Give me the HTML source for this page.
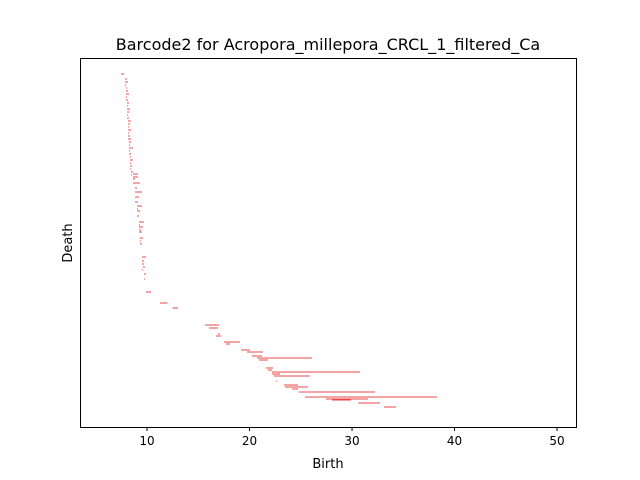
<!DOCTYPE html>
<html><head><meta charset="utf-8"><style>
body{margin:0;background:#fff}
svg{display:block;font-family:"DejaVu Sans","Liberation Sans",sans-serif}
</style></head><body>
<svg width="640" height="480" id="chart">
<rect x="0" y="0" width="640" height="480" fill="#fff"/>
<text x="328" y="50" text-anchor="middle" font-size="16">Barcode2 for Acropora_millepora_CRCL_1_filtered_Ca</text>
<g id="bars"></g>
<g id="xticks"></g>
<rect x="80.5" y="58.5" width="496" height="369" fill="none" stroke="#000" stroke-width="1"/>
<text x="328" y="468" text-anchor="middle" font-size="13">Birth</text>
<text x="72" y="243" text-anchor="middle" font-size="13" transform="rotate(-90 72 243)">Death</text>
</svg>
<script>
const births=[7.46,7.85,7.85,7.85,7.95,7.95,7.95,7.95,7.95,8.05,8.05,8.05,8.05,8.05,8.05,8.15,8.15,8.15,8.15,8.15,8.15,8.15,8.24,8.24,8.24,8.24,8.24,8.34,8.34,8.34,8.34,8.34,8.44,8.44,8.63,8.63,8.63,8.63,8.83,8.83,8.83,8.83,9.02,9.02,9.02,9.02,9.22,9.22,9.22,9.22,9.22,9.32,9.32,9.32,9.51,9.51,9.51,9.51,9.61,9.71,9.71,9.90,11.27,12.5,15.66,16.05,16.73,16.9,17.51,17.71,19.17,19.76,20.24,20.73,20.93,21.61,21.80,22.20,22.20,22.39,22.59,23.37,23.46,24.15,24.83,25.41,27.46,28.05,30.6,33.12];
const deaths=[7.76,8.05,8.15,7.95,8.05,8.15,8.24,8.05,8.15,8.24,8.15,8.34,8.24,8.15,8.24,8.44,8.34,8.24,8.44,8.24,8.34,8.44,8.44,8.34,8.63,8.34,8.44,8.44,8.63,8.44,8.53,8.44,8.63,8.53,9.12,9.12,9.32,8.83,9.51,9.22,9.12,9.02,9.51,9.32,9.22,9.12,9.71,9.61,9.51,9.32,9.42,9.61,9.51,9.42,9.90,9.71,9.61,9.71,9.80,9.90,9.80,10.39,12.0,13.02,17.02,16.93,17.22,17.1,19.07,18.10,20.05,21.32,21.22,26.10,21.80,22.29,22.20,30.78,22.98,25.90,22.68,24.73,25.71,24.73,32.24,38.29,31.56,29.90,32.73,34.29];
const ranks=[16,21,24,27,30,33,36,39,42,45,48,51,54,57,60,63,66,69,72,75,78,81,84,87,90,93,96,99,102,105,108,111,114,117,116,119,125,121,134,139,144,130,148,153,158,151,164,169,174,167,172,180,186,183,199,206,212,203,209,216,221,234,245,250,267,270,278,276,284,286,292,294,298,300,302,310,312,314,316,318,323,327,329,331,334,339,341,342,345,349];
const xTicks=[10,20,30,40,50];
const xLo=3.46,xHi=51.85,L=80,R=576,T=58,B=427;
const xs=v=>L+(v-xLo)/(xHi-xLo)*(R-L);
const ys=r=>T+r;
const NS="http://www.w3.org/2000/svg";
const g=document.getElementById('bars');
for(let i=0;i<births.length;i++){
  const r=document.createElementNS(NS,'rect');
  const x1=xs(births[i]),x2=xs(deaths[i]);
  r.setAttribute('x',x1);r.setAttribute('y',ys(ranks[i])-0.5);
  r.setAttribute('width',Math.max(1,x2-x1));r.setAttribute('height',1);
  r.setAttribute('fill','#e84848');
  
  
  g.appendChild(r);
}
const xt=document.getElementById('xticks');
xTicks.forEach(t=>{
  const x=xs(t);
  const l=document.createElementNS(NS,'line');
  l.setAttribute('x1',x);l.setAttribute('x2',x);l.setAttribute('y1',B);l.setAttribute('y2',B+4);
  l.setAttribute('stroke','#000');
  
  
  xt.appendChild(l);
  const tx=document.createElementNS(NS,'text');
  tx.setAttribute('x',x);tx.setAttribute('y',B+18);tx.setAttribute('text-anchor','middle');tx.setAttribute('font-size','12');
  tx.textContent=t;
  
  
  xt.appendChild(tx);
});
</script>
</body></html>
